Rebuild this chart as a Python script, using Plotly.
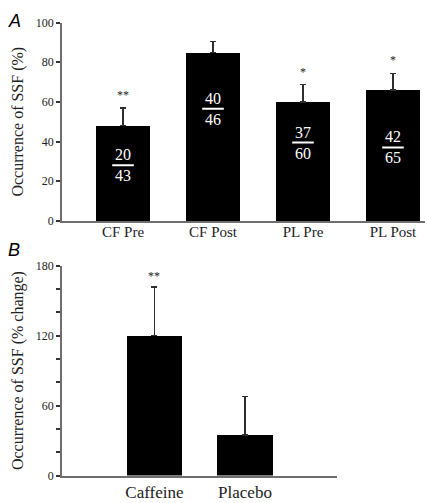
import plotly.graph_objects as go

# Panel A data
cats_a = ["CF Pre", "CF Post", "PL Pre", "PL Post"]
vals_a = [48, 85, 60, 66]
errs_a = [9, 5.5, 8.7, 8.4]
num_a = ["20", "40", "37", "42"]
den_a = ["43", "46", "60", "65"]
frac_y_a = [28, 56.5, 39.5, 37]
stars_a = ["**", "", "*", "*"]

# Panel B data
cats_b = ["Caffeine", "Placebo"]
vals_b = [120, 35]
errs_b = [41.5, 33]
stars_b = ["**", ""]

SERIF = "Liberation Serif"
SANS = "Liberation Sans"
AX = "#6e6e6e"
TXT = "#222222"
ERR = "#2e2e2e"

fig = go.Figure()


def add_bars(xs, ys, errs, width, xa, ya):
    fig.add_trace(go.Bar(
        x=xs, y=ys, width=width,
        marker=dict(color="black", line=dict(width=0)),
        error_y=dict(type="data", array=errs, arrayminus=[0] * len(ys),
                     symmetric=False, color=ERR, thickness=1.5, width=3),
        xaxis=xa, yaxis=ya, showlegend=False, hoverinfo="skip"))


add_bars(list(range(len(cats_a))), vals_a, errs_a, 0.59, "x", "y")
add_bars(list(range(len(cats_b))), vals_b, errs_b, 0.61, "x2", "y2")

annotations = []
shapes = []

for i in range(len(cats_a)):
    annotations.append(dict(x=i, y=frac_y_a[i], xref="x", yref="y", text=num_a[i],
                            showarrow=False, yanchor="bottom", yshift=0,
                            font=dict(family=SERIF, size=16, color="white")))
    annotations.append(dict(x=i, y=frac_y_a[i], xref="x", yref="y", text=den_a[i],
                            showarrow=False, yanchor="top", yshift=0,
                            font=dict(family=SERIF, size=16, color="white")))
    shapes.append(dict(type="line", xref="x", yref="y", x0=i - 0.12, x1=i + 0.12,
                       y0=frac_y_a[i], y1=frac_y_a[i],
                       line=dict(color="white", width=2)))
    if stars_a[i]:
        annotations.append(dict(x=i, y=vals_a[i] + errs_a[i], xref="x", yref="y",
                                text=stars_a[i], showarrow=False, yanchor="bottom",
                                yshift=4, font=dict(family=SERIF, size=12, color=TXT)))

for i in range(len(cats_b)):
    if stars_b[i]:
        annotations.append(dict(x=i, y=vals_b[i] + errs_b[i], xref="x2", yref="y2",
                                text=stars_b[i], showarrow=False, yanchor="bottom",
                                yshift=2, font=dict(family=SERIF, size=12, color=TXT)))

annotations.append(dict(x=6 / 427, y=1 - 2 / 503, xref="paper", yref="paper", text="<i>A</i>",
                        showarrow=False, xanchor="left", yanchor="top",
                        font=dict(family=SANS, size=18, color="black")))
annotations.append(dict(x=6 / 427, y=1 - 238 / 503, xref="paper", yref="paper", text="<i>B</i>",
                        showarrow=False, xanchor="left", yanchor="top",
                        font=dict(family=SANS, size=18, color="black")))

b_ticks = list(range(0, 181, 20))
b_text = [str(v) if v % 60 == 0 else "" for v in b_ticks]

common_y = dict(showline=True, linecolor=AX, linewidth=1.5, ticks="outside", ticklen=4,
                tickcolor="#333333", tickwidth=1.5, showgrid=False, zeroline=False,
                tickfont=dict(family=SERIF, size=12, color=TXT),
                title_font=dict(family=SERIF, size=16, color=TXT))
common_x = dict(showline=True, linecolor=AX, linewidth=1.5, ticks="", showgrid=False,
                zeroline=False)

fig.update_layout(
    width=427, height=503,
    margin=dict(l=0, r=0, t=0, b=0),
    paper_bgcolor="white", plot_bgcolor="white",
    bargap=0,
    xaxis=dict(domain=[62 / 427, 425 / 427], range=[-0.678, 3.356],
               tickmode="array", tickvals=list(range(len(cats_a))), ticktext=cats_a,
               tickfont=dict(family=SERIF, size=15, color=TXT), ticklabelstandoff=-4,
               anchor="y", **common_x),
    yaxis=dict(domain=[1 - 220 / 503, 1 - 16 / 503], range=[0, 100],
               tickmode="array", tickvals=[0, 20, 40, 60, 80, 100],
               title=dict(text="Occurrence of SSF (%)", standoff=8),
               anchor="x", **common_y),
    xaxis2=dict(domain=[62 / 427, 337 / 427], range=[-1.022, 2.017],
                tickmode="array", tickvals=list(range(len(cats_b))), ticktext=cats_b,
                tickfont=dict(family=SERIF, size=17, color=TXT), ticklabelstandoff=0,
                anchor="y2", **common_x),
    yaxis2=dict(domain=[1 - 482 / 503, 1 - 266 / 503], range=[0, 180],
                tickmode="array", tickvals=b_ticks, ticktext=b_text,
                title=dict(text="Occurrence of SSF (% change)", standoff=8),
                anchor="x2", **common_y),
    annotations=annotations,
    shapes=shapes,
)

fig.write_html("out.html", config={"displayModeBar": False},
               post_script="document.body.style.margin='0px';")
